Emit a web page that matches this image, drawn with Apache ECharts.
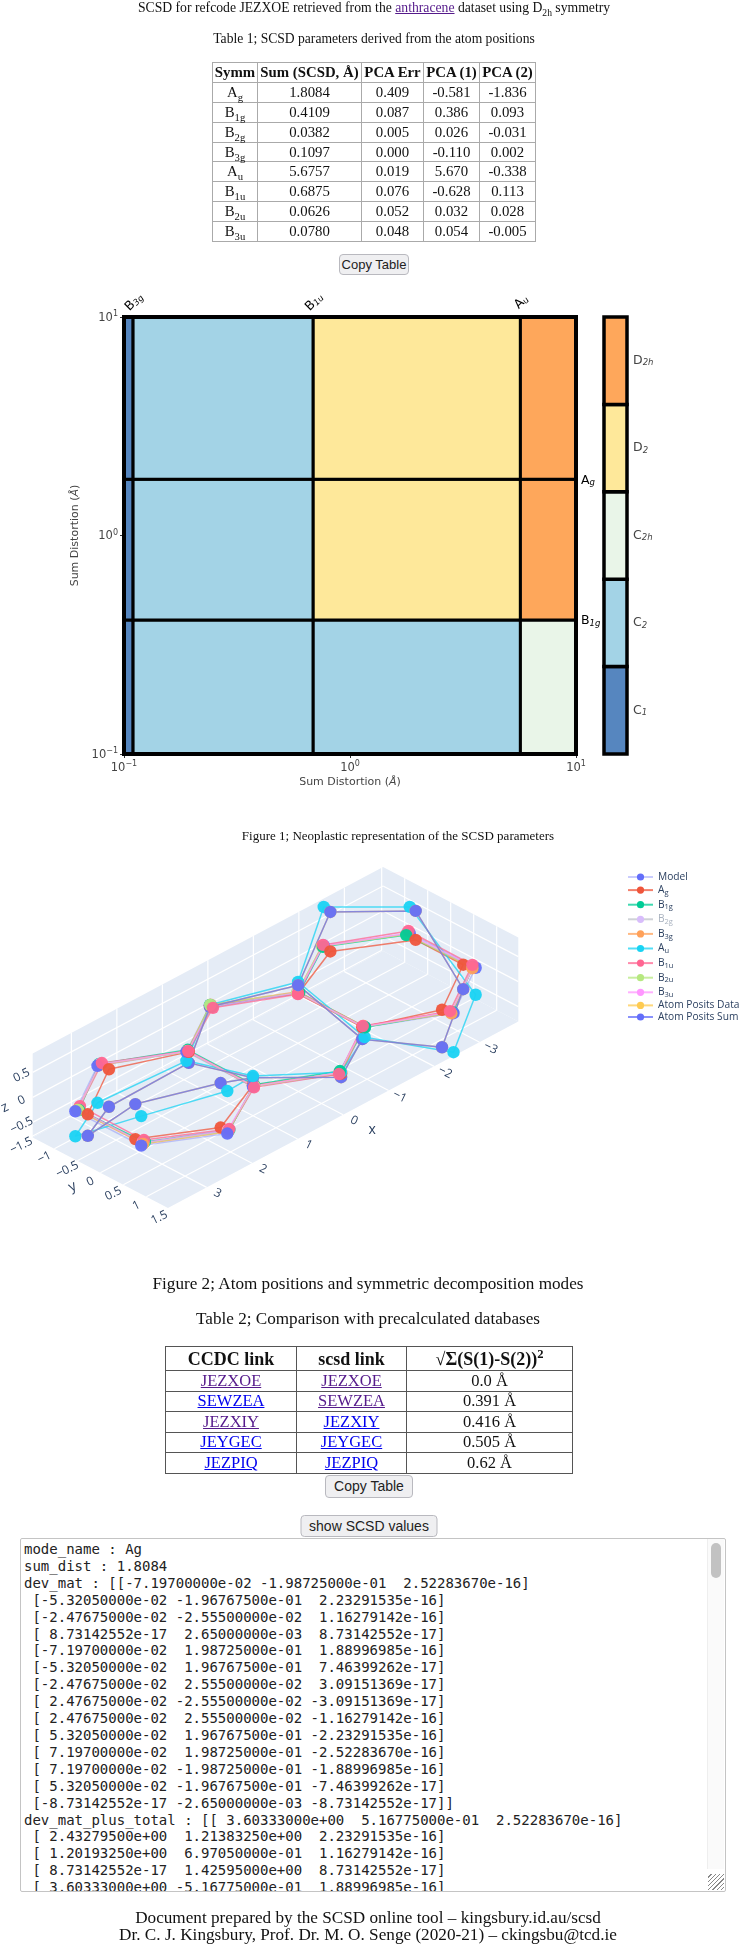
<!DOCTYPE html>
<html>
<head>
<meta charset="utf-8">
<script src="https://cdn.jsdelivr.net/npm/echarts@6/dist/echarts.min.js"></script>
<style>
html,body{margin:0;padding:0;background:#fff;width:744px;height:1948px;overflow:hidden}
#wrap{position:absolute;left:0;top:0;width:744px;height:1948px;filter:blur(0.4px)}
#chart{position:absolute;left:0;top:0;width:744px;height:1948px}
.t{position:absolute;font-family:"Liberation Serif",serif;color:#111;white-space:nowrap;transform:translateX(-50%)}
table{position:absolute;border-collapse:collapse;font-family:"Liberation Serif",serif;color:#111;text-align:center;table-layout:fixed}
.btn{position:absolute;transform:translateX(-50%);box-sizing:border-box;background:#efeff1;border:1px solid #b9b9bf;border-radius:4px;font-family:"Liberation Sans",sans-serif;font-size:13px;color:#222;text-align:center;line-height:19px}
#tb1 td,#tb1 th{border:1px solid #aaa;padding:0;height:18.9px;line-height:17px;font-size:14.8px}
#tb2 td,#tb2 th{border:1px solid #555;padding:0;height:19.5px;line-height:18px;font-size:16.5px}
#tb2 th{font-size:18px;height:23px}
#area{position:absolute;left:20px;top:1538px;width:706px;height:354px;box-sizing:border-box;border:1px solid #c4c4c4;border-radius:2px;overflow:hidden;background:#fff}
#area pre{margin:0;position:absolute;left:3px;top:2px;font-family:"DejaVu Sans Mono",monospace;font-size:14px;line-height:16.9px;color:#222}
#track{position:absolute;right:1px;top:0;width:16px;height:330px;background:#fafafa;border-left:1px solid #eee}
#thumb{position:absolute;left:3px;top:4px;width:10px;height:35px;background:#c2c2c2;border-radius:5px}
#grip{position:absolute;right:1px;bottom:1px;width:16px;height:16px;background:repeating-linear-gradient(135deg,#fff 0 2px,#888 2px 3px)}
</style>
</head>
<body>
<div id="wrap">
<div id="chart"></div>
<div id="page"></div>
</div>
<script>
// ---------- Table 1 ----------
const symm = ['Ag','B1g','B2g','B3g','Au','B1u','B2u','B3u'];
const sumScsd = ['1.8084','0.4109','0.0382','0.1097','5.6757','0.6875','0.0626','0.0780'];
const pcaErr = ['0.409','0.087','0.005','0.000','0.019','0.076','0.052','0.048'];
const pca1 = ['-0.581','0.386','0.026','-0.110','5.670','-0.628','0.032','0.054'];
const pca2 = ['-1.836','0.093','-0.031','0.002','-0.338','0.113','0.028','-0.005'];

// ---------- Table 2 ----------
const ccdc = ['JEZXOE','SEWZEA','JEZXIY','JEYGEC','JEZPIQ'];
const ccdcVisited = [1,0,1,0,0];
const scsdVisited = [1,1,0,0,0];
const diffs = ['0.0','0.391','0.416','0.505','0.62'];

// ---------- Figure 1: neoplastic ----------
const xCuts = [['B','3g',0.1097],['B','1u',0.6875],['A','u',5.6757]];
const yCuts = [['A','g',1.8084],['B','1g',0.4109]];
const xEdges = [0.1,0.1097,0.6875,5.6757,10];
const yEdges = [0.1,0.4109,1.8084,10];
const cellRowBottom = ['C1','C2','C2','C2h'];
const cellRowMiddle = ['C1','C2','D2','D2h'];
const cellRowTop = ['C1','C2','D2','D2h'];
const barOrder = ['C1','C2','C2h','D2','D2h'];
const barColors = {C1:'#5686bf',C2:'#a3d3e6',C2h:'#e9f5e8',D2:'#fee89a',D2h:'#fea75b'};

// ---------- Figure 2: atom positions (Angstrom) ----------
const modelX = [3.675,2.486,1.227,0,3.675,2.486,1.227,-1.227,-1.227,-2.486,-3.675,-3.675,-2.486,0];
const modelY = [0.716,1.411,0.723,1.423,-0.716,-1.411,-0.723,0.723,-0.723,-1.411,-0.716,0.716,1.411,-1.423];
const modelZ = [0,0,0,0,0,0,0,0,0,0,0,0,0,0];
const agX = [3.603,2.433,1.202,0,3.603,2.433,1.202,-1.202,-1.202,-2.433,-3.603,-3.603,-2.433,0];
const agY = [0.517,1.214,0.697,1.426,-0.517,-1.214,-0.697,0.697,-0.697,-1.214,-0.517,0.517,1.214,-1.426];
const agZ = [0,0,0,0,0,0,0,0,0,0,0,0,0,0];
const b1gX = [3.56,2.39,1.18,0.02,3.61,2.43,1.17,-1.23,-1.24,-2.45,-3.60,-3.66,-2.50,0.01];
const b1gY = [0.68,1.36,0.70,1.42,-0.70,-1.43,-0.75,0.73,-0.71,-1.39,-0.72,0.67,1.38,-1.37];
const b1gZ = [0,0,0,0.06,0,0,0,0,0,0,0,0,0,0];
const b2gX = [3.66,2.47,1.22,0.01,3.66,2.47,1.22,-1.22,-1.22,-2.47,-3.66,-3.66,-2.47,-0.01];
const b2gY = [0.71,1.40,0.72,1.41,-0.71,-1.40,-0.72,0.72,-0.72,-1.40,-0.71,0.71,1.40,-1.41];
const b2gZ = [0,0,0,0,0,0,0,0,0,0,0,0,0,0];
const b3gX = [3.62,2.44,1.20,-0.02,3.63,2.45,1.20,-1.24,-1.24,-2.46,-3.62,-3.63,-2.46,-0.02];
const b3gY = [0.70,1.38,0.72,1.41,-0.72,-1.40,-0.73,0.69,-0.74,-1.42,-0.73,0.69,1.39,-1.43];
const b3gZ = [0,0,0,0,0,0,0,0,0,0,0,0,0,0];
const auX = [3.675,2.486,1.227,0,3.675,2.486,1.227,-1.227,-1.227,-2.486,-3.675,-3.675,-2.486,0];
const auY = [0.716,1.411,0.723,1.423,-0.716,-1.411,-0.723,0.723,-0.723,-1.411,-0.716,0.716,1.411,-1.423];
const auZ = [0.59,0.85,0.21,0.03,-0.50,-0.74,-0.18,-0.20,0.21,0.77,0.53,-0.54,-0.78,0.01];
const b1uX = [3.53,2.37,1.23,0.03,3.52,2.38,1.19,-1.23,-1.19,-2.49,-3.71,-3.70,-2.49,0];
const b1uY = [0.63,1.34,0.75,1.41,-0.77,-1.42,-0.72,0.68,-0.69,-1.43,-0.78,0.62,1.33,-1.36];
const b1uZ = [0,0,0,0,0,0,0,0,0,0,0,0,0,-0.02];
const b2uX = [3.60,2.42,1.22,0.01,3.62,2.42,1.21,-1.22,-1.21,-2.45,-3.62,-3.65,-2.47,0.03];
const b2uY = [0.69,1.37,0.73,1.40,-0.71,-1.42,-0.71,0.71,-0.73,-1.41,-0.73,0.68,1.37,-1.39];
const b2uZ = [0,0,0,0,0,0,0,0,0,0,0,0,0,0.04];
const b3uX = [3.60,2.41,1.21,0,3.60,2.43,1.20,-1.22,-1.22,-2.47,-3.64,-3.67,-2.49,0.01];
const b3uY = [0.67,1.35,0.72,1.39,-0.73,-1.42,-0.72,0.70,-0.72,-1.41,-0.75,0.67,1.36,-1.38];
const b3uZ = [0,0,0,0,0,0,0,0,0,0,0,0,0,0];
const sumX = [3.603,2.433,1.202,0,3.603,2.433,1.202,-1.202,-1.202,-2.433,-3.603,-3.603,-2.433,0];
const sumY = [0.517,1.214,0.697,1.426,-0.517,-1.214,-0.697,0.697,-0.697,-1.214,-0.517,0.517,1.214,-1.426];
const sumZ = [0.70,0.89,0.15,-0.07,-0.43,-0.75,-0.22,-0.24,0.17,0.79,0.58,-0.49,-0.75,-0.03];
const bondPath = [0,1,2,6,5,4,0,1,2,3,7,12,11,10,9,8,7,8,13,6];

const traceNames = ['Model','Ag','B1g','B2g','B3g','Au','B1u','B2u','B3u','Atom Posits Data','Atom Posits Sum'];
const traceColors = ['#636efa','#ef553b','#00cc96','#ab63fa','#ffa15a','#19d3f3','#ff6692','#b6e880','#ff97ff','#fecb52','#636efa'];
const traceCoords = [[modelX,modelY,modelZ],[agX,agY,agZ],[b1gX,b1gY,b1gZ],[b2gX,b2gY,b2gZ],[b3gX,b3gY,b3gZ],[auX,auY,auZ],[b1uX,b1uY,b1uZ],[b2uX,b2uY,b2uZ],[b3uX,b3uY,b3uZ],[sumX,sumY,sumZ],[sumX,sumY,sumZ]];
const hiddenTraces = ['B2g'];
const xTicks = [3,2,1,0,-1,-2,-3];
const yTicks = [-1.5,-1,-0.5,0,0.5,1,1.5];
const zTicks = [-0.5,0,0.5];
const sceneRange = {x:[-3.85,3.85],y:[-1.47,1.47],z:[-0.8,0.88]};

// camera of the 3D scene: page position of a point (x, y, z)
function project(x,y,z){return [275.5-45.5*x+46*y, 1039.5+24.2*x+24*y-50*z];}

// ---------- Text box ----------
const modeLines = [
'mode_name : Ag','sum_dist : 1.8084',
'dev_mat : [[-7.19700000e-02 -1.98725000e-01  2.52283670e-16]',
' [-5.32050000e-02 -1.96767500e-01  2.23291535e-16]',
' [-2.47675000e-02 -2.55500000e-02  1.16279142e-16]',
' [ 8.73142552e-17  2.65000000e-03  8.73142552e-17]',
' [-7.19700000e-02  1.98725000e-01  1.88996985e-16]',
' [-5.32050000e-02  1.96767500e-01  7.46399262e-17]',
' [-2.47675000e-02  2.55500000e-02  3.09151369e-17]',
' [ 2.47675000e-02 -2.55500000e-02 -3.09151369e-17]',
' [ 2.47675000e-02  2.55500000e-02 -1.16279142e-16]',
' [ 5.32050000e-02  1.96767500e-01 -2.23291535e-16]',
' [ 7.19700000e-02  1.98725000e-01 -2.52283670e-16]',
' [ 7.19700000e-02 -1.98725000e-01 -1.88996985e-16]',
' [ 5.32050000e-02 -1.96767500e-01 -7.46399262e-17]',
' [-8.73142552e-17 -2.65000000e-03 -8.73142552e-17]]',
'dev_mat_plus_total : [[ 3.60333000e+00  5.16775000e-01  2.52283670e-16]',
' [ 2.43279500e+00  1.21383250e+00  2.23291535e-16]',
' [ 1.20193250e+00  6.97050000e-01  1.16279142e-16]',
' [ 8.73142552e-17  1.42595000e+00  8.73142552e-17]',
' [ 3.60333000e+00 -5.16775000e-01  1.88996985e-16]'];

// ---------- HTML page furniture ----------
const sub = s => s.replace(/^([AB])(.*)$/, (m,a,b)=>a+'<sub style="font-size:72%;line-height:0">'+b+'</sub>');
const link = (t,v)=>`<a style="color:${v?'#551A8B':'#0000EE'};text-decoration:underline">${t}</a>`;
let rows1 = symm.map((s,i)=>`<tr><td>${sub(s)}</td><td>${sumScsd[i]}</td><td>${pcaErr[i]}</td><td>${pca1[i]}</td><td>${pca2[i]}</td></tr>`).join('');
let rows2 = ccdc.map((c,i)=>`<tr><td>${link(c,ccdcVisited[i])}</td><td>${link(c,scsdVisited[i])}</td><td>${diffs[i]} Å</td></tr>`).join('');
document.getElementById('page').innerHTML = `
<div class="t" style="left:374px;top:0px;font-size:13.7px">SCSD for refcode JEZXOE retrieved from the <a style="color:#551A8B;text-decoration:underline">anthracene</a> dataset using D<sub style="font-size:70%;line-height:0">2h</sub> symmetry</div>
<div class="t" style="left:374px;top:31px;font-size:13.6px">Table 1; SCSD parameters derived from the atom positions</div>
<table id="tb1" style="left:212px;top:62px;width:323px"><colgroup><col style="width:45px"><col style="width:104px"><col style="width:62px"><col style="width:56px"><col style="width:56px"></colgroup>
<tr><th>Symm</th><th>Sum (SCSD, Å)</th><th>PCA Err</th><th>PCA (1)</th><th>PCA (2)</th></tr>${rows1}</table>
<div class="btn" style="left:374px;top:254px;width:70px;height:21px">Copy Table</div>
<div class="t" style="left:398px;top:828px;font-size:13px">Figure 1; Neoplastic representation of the SCSD parameters</div>
<div class="t" style="left:368px;top:1274px;font-size:17.15px">Figure 2; Atom positions and symmetric decomposition modes</div>
<div class="t" style="left:368px;top:1309px;font-size:17.15px">Table 2; Comparison with precalculated databases</div>
<table id="tb2" style="left:165px;top:1346px;width:407px"><colgroup><col style="width:131px"><col style="width:110px"><col style="width:166px"></colgroup>
<tr><th>CCDC link</th><th>scsd link</th><th>√Σ(S(1)-S(2))<sup style="font-size:70%;line-height:0">2</sup></th></tr>${rows2}</table>
<div class="btn" style="left:369px;top:1475px;width:88px;height:23px;font-size:14px;line-height:21px">Copy Table</div>
<div class="btn" style="left:369px;top:1515px;width:137px;height:22px;font-size:14px;line-height:20px">show SCSD values</div>
<div id="area"><pre>${modeLines.join('\n')}</pre><div id="track"><div id="thumb"></div></div><div id="grip"></div></div>
<div class="t" style="left:368px;top:1908px;font-size:17.2px">Document prepared by the SCSD online tool – kingsbury.id.au/scsd</div>
<div class="t" style="left:368px;top:1925px;font-size:17.2px">Dr. C. J. Kingsbury, Prof. Dr. M. O. Senge (2020-21) – ckingsbu@tcd.ie</div>`;

// ---------- ECharts ----------
const chart = echarts.init(document.getElementById('chart'),null,{renderer:'canvas'});
const axisColor = '#444';
const expo = v => {const e=Math.round(Math.log10(v));return '{b|10}{e|'+(e<0?'−'+(-e):e)+'}';};
const expoRich = {b:{fontSize:11.5,color:axisColor,fontFamily:'DejaVu Sans',lineHeight:14,verticalAlign:'bottom'},e:{fontSize:8,color:axisColor,fontFamily:'DejaVu Sans',lineHeight:14,verticalAlign:'top',padding:[0,0,4,0]}};
const subRich = {m:{fontSize:12.5,color:axisColor,fontFamily:'DejaVu Sans',lineHeight:15},s:{fontSize:8.5,fontStyle:'italic',color:axisColor,fontFamily:'DejaVu Sans',lineHeight:15,padding:[5,0,0,0]}};
const barLabel = n => '{m|'+n[0]+'}{s|'+n.slice(1)+'}';

const cells = [];
[cellRowBottom,cellRowMiddle,cellRowTop].forEach((row,r)=>row.forEach((c,i)=>cells.push([xEdges[i],xEdges[i+1],yEdges[r],yEdges[r+1],c])));
const cutLabels = [...xCuts.map(c=>[c[2],10,c[0],c[1],'top']),...yCuts.map(c=>[10,c[2],c[0],c[1],'right'])];

const sceneIdx = 2;
const lineSeries = traceNames.map((n,t)=>({
  type:'line',name:n,xAxisIndex:sceneIdx,yAxisIndex:sceneIdx,showSymbol:false,symbol:'circle',symbolSize:10,
  silent:true,animation:false,clip:false,z:4,
  lineStyle:{color:traceColors[t],width:1.5,opacity:t===0?0.35:0.75},itemStyle:{color:traceColors[t]},
  data:bondPath.map(i=>project(traceCoords[t][0][i],traceCoords[t][1][i],traceCoords[t][2][i]))
}));
const atoms = [];
traceNames.forEach((n,t)=>{
  if(hiddenTraces.includes(n)) return;
  const c=traceCoords[t];
  c[0].forEach((x,i)=>{const p=project(x,c[1][i],c[2][i]);atoms.push({d:x+c[1][i]+c[2][i]+(n==='B1u'?0.15:0),v:[p[0],p[1],t]});});
});
atoms.sort((a,b)=>a.d-b.d);

const R=sceneRange;
const wallPolys=[
 [[R.x[1],R.y[0],R.z[0]],[R.x[1],R.y[1],R.z[0]],[R.x[0],R.y[1],R.z[0]],[R.x[0],R.y[0],R.z[0]]],
 [[R.x[1],R.y[0],R.z[0]],[R.x[0],R.y[0],R.z[0]],[R.x[0],R.y[0],R.z[1]],[R.x[1],R.y[0],R.z[1]]],
 [[R.x[0],R.y[0],R.z[0]],[R.x[0],R.y[1],R.z[0]],[R.x[0],R.y[1],R.z[1]],[R.x[0],R.y[0],R.z[1]]]
];
const gridSegs=[];
xTicks.forEach(v=>{gridSegs.push([[v,R.y[0],R.z[0]],[v,R.y[1],R.z[0]]]);gridSegs.push([[v,R.y[0],R.z[0]],[v,R.y[0],R.z[1]]]);});
yTicks.forEach(v=>{gridSegs.push([[R.x[0],v,R.z[0]],[R.x[1],v,R.z[0]]]);gridSegs.push([[R.x[0],v,R.z[0]],[R.x[0],v,R.z[1]]]);});
zTicks.forEach(v=>{gridSegs.push([[R.x[0],R.y[0],v],[R.x[1],R.y[0],v]]);gridSegs.push([[R.x[0],R.y[0],v],[R.x[0],R.y[1],v]]);});
const neg = v => (v<0?'−':'')+Math.abs(v);
const tickTexts=[
 ...xTicks.map(v=>({p:project(v,R.y[1],R.z[0]),o:[11,6],t:neg(v),r:-0.45,s:12})),
 ...yTicks.map(v=>({p:project(R.x[1],v,R.z[0]),o:[-10,9],t:neg(v),r:0.45,s:12})),
 ...zTicks.map(v=>({p:project(R.x[1],R.y[0],v),o:[-11,3],t:neg(v),r:0.45,s:12})),
 {p:project(0,R.y[1],R.z[0]),o:[29,15],t:'x',r:0,s:14},
 {p:project(R.x[1],0,R.z[0]),o:[-28,14],t:'y',r:0.45,s:14},
 {p:project(R.x[1],R.y[0],0),o:[-28,10],t:'z',r:0.45,s:14}
];
const legendText = n => {const m=n.match(/^([AB])(\d?[gu])$/);const hid=hiddenTraces.includes(n);
  return m?`{${hid?'h':'n'}|${m[1]}}{${hid?'hs':'ns'}|${m[2]}}`:`{n|${n}}`;};
const lgF='Open Sans';

chart.setOption({
  animation:false,
  backgroundColor:'transparent',
  grid:[
    {left:124,top:317,width:452,height:437},
    {left:604,top:317,width:23,height:437},
    {left:0,top:840,width:744,height:430}
  ],
  xAxis:[
    {gridIndex:0,type:'log',logBase:10,min:0.1,max:10,name:'Sum Distortion ({i|Å})',nameLocation:'middle',nameGap:23,
     nameTextStyle:{fontSize:11,fontFamily:'DejaVu Sans',color:axisColor,rich:{i:{fontStyle:'italic',fontSize:11,fontFamily:'DejaVu Sans',color:axisColor}}},
     axisLine:{show:false},splitLine:{show:false},axisTick:{show:true,length:4,lineStyle:{color:'#333'}},
     minorTick:{show:true,splitNumber:9,length:2,lineStyle:{color:'#555'}},
     axisLabel:{margin:6,formatter:expo,rich:expoRich}},
    {gridIndex:1,type:'value',min:0,max:1,show:false},
    {gridIndex:2,type:'value',min:0,max:744,show:false}
  ],
  yAxis:[
    {gridIndex:0,type:'log',logBase:10,min:0.1,max:10,name:'Sum Distortion ({i|Å})',nameLocation:'middle',nameGap:38,
     nameTextStyle:{fontSize:11,fontFamily:'DejaVu Sans',color:axisColor,rich:{i:{fontStyle:'italic',fontSize:11,fontFamily:'DejaVu Sans',color:axisColor}}},
     axisLine:{show:false},splitLine:{show:false},axisTick:{show:true,length:4,lineStyle:{color:'#333'}},
     minorTick:{show:true,splitNumber:9,length:2,lineStyle:{color:'#555'}},
     axisLabel:{margin:6,formatter:expo,rich:expoRich}},
    {gridIndex:1,type:'category',position:'right',data:barOrder,axisLine:{show:false},axisTick:{show:false},
     axisLabel:{margin:6,formatter:barLabel,rich:subRich}},
    {gridIndex:2,type:'value',inverse:true,min:840,max:1270,show:false}
  ],
  legend:{
    left:627,top:872,padding:0,orient:'vertical',itemWidth:25,itemHeight:9,itemGap:1.6,
    data:traceNames,selected:{B2g:false},
    inactiveColor:'#d8bdfb',inactiveBorderColor:'#d8bdfb',
    lineStyle:{width:2},
    textStyle:{rich:{
      n:{fontSize:10.2,fontFamily:lgF,color:'#2a3f5f',lineHeight:14},
      ns:{fontSize:7.5,fontFamily:lgF,color:'#2a3f5f',lineHeight:14,padding:[5,0,0,0]},
      h:{fontSize:10.2,fontFamily:lgF,color:'#a9b2bf',lineHeight:14},
      hs:{fontSize:7.5,fontFamily:lgF,color:'#a9b2bf',lineHeight:14,padding:[5,0,0,0]}}},
    formatter:legendText
  },
  series:[
    {type:'custom',name:'cells',xAxisIndex:0,yAxisIndex:0,silent:true,clip:false,z:2,encode:{x:[0,1],y:[2,3]},
     data:[...cells,[0.1,10,0.1,10,'frame']],
     renderItem(p,api){
       const a=api.coord([api.value(0),api.value(2)]),b=api.coord([api.value(1),api.value(3)]);
       const key=api.value(4);const frame=key==='frame';
       return {type:'rect',z2:frame?5:1,shape:{x:a[0],y:b[1],width:b[0]-a[0],height:a[1]-b[1]},
         style:{fill:frame?'none':barColors[key],stroke:'#000',lineWidth:frame?4:3}};
     }},
    {type:'custom',name:'cuts',xAxisIndex:0,yAxisIndex:0,silent:true,clip:false,z:3,encode:{x:0,y:1},
     data:cutLabels,
     renderItem(p,api){
       const pt=api.coord([api.value(0),api.value(1)]);const top=api.value(4)==='top';
       return {type:'text',x:pt[0]+(top?1:5),y:pt[1]+(top?-15:1),rotation:top?Math.PI/4:0,
         style:{text:'{m|'+api.value(2)+'}{s|'+api.value(3)+'}',rich:subRich,align:top?'center':'left',verticalAlign:'middle'}};
     }},
    {type:'custom',name:'scale',xAxisIndex:1,yAxisIndex:1,silent:true,clip:false,z:2,encode:{x:0,y:1},
     data:barOrder.map((n,i)=>[0,i]),
     renderItem(p,api){
       const i=api.value(1);const c=api.coord([0,i]);const s=api.size([1,1]);
       return {type:'rect',shape:{x:c[0],y:c[1]-s[1]/2,width:s[0],height:s[1]},
         style:{fill:barColors[barOrder[i]],stroke:'#000',lineWidth:3.5}};
     }},
    {type:'custom',name:'scene',xAxisIndex:sceneIdx,yAxisIndex:sceneIdx,silent:true,clip:false,z:1,encode:{x:0,y:1},
     data:[[0,0]],
     renderItem(p,api){
       const cd=c=>api.coord(c);
       const kids=[];
       wallPolys.forEach(w=>kids.push({type:'polygon',shape:{points:w.map(q=>cd(project(q[0],q[1],q[2])))},style:{fill:'#e5ecf6'}}));
       gridSegs.forEach(g=>{const a=cd(project(...g[0])),b=cd(project(...g[1]));
         kids.push({type:'line',shape:{x1:a[0],y1:a[1],x2:b[0],y2:b[1]},style:{stroke:'#fff',lineWidth:1.2}});});
       tickTexts.forEach(t=>{const q=cd(t.p);
         kids.push({type:'text',x:q[0]+t.o[0],y:q[1]+t.o[1],rotation:t.r,style:{text:t.t,fontSize:t.s,fontFamily:'Open Sans',fill:'#2a3f5f',align:'center',verticalAlign:'middle'}});});
       return {type:'group',children:kids};
     }},
    ...lineSeries,
    {type:'custom',name:'atoms',xAxisIndex:sceneIdx,yAxisIndex:sceneIdx,silent:true,clip:false,z:5,encode:{x:0,y:1},
     data:atoms.map(a=>a.v),
     renderItem(p,api){
       const q=api.coord([api.value(0),api.value(1)]);
       return {type:'circle',shape:{cx:q[0],cy:q[1],r:6.2},style:{fill:traceColors[api.value(2)],opacity:0.95}};
     }}
  ]
});
</script>
</body>
</html>
